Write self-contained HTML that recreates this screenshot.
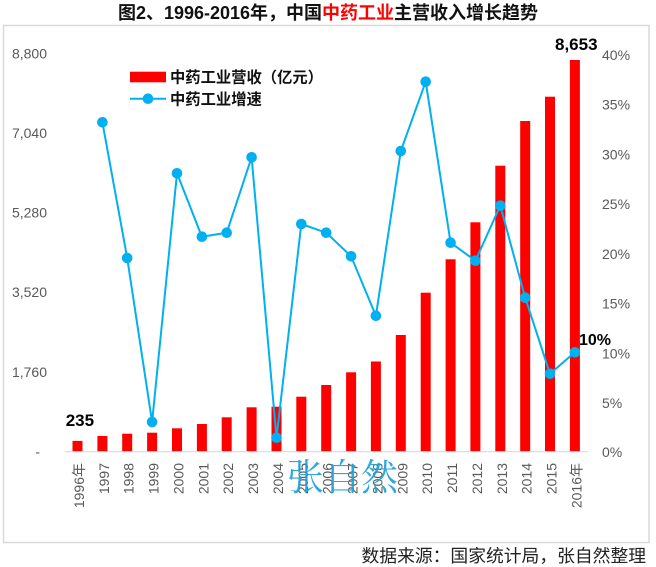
<!DOCTYPE html>
<html><head><meta charset="utf-8"><style>
html,body{margin:0;padding:0;background:#fff;}
svg{display:block;}
</style></head><body>
<svg width="656" height="567" viewBox="0 0 656 567" xmlns="http://www.w3.org/2000/svg">
<rect x="0" y="0" width="656" height="567" fill="#fff"/>
<text x="328" y="19" text-anchor="middle" font-family="Liberation Sans, Noto Sans CJK SC, sans-serif" font-size="18" font-weight="bold" fill="#111">图2、1996-2016年，中国<tspan fill="#ff0000">中药工业</tspan>主营收入增长趋势</text>
<rect x="3.5" y="25.5" width="645.5" height="517" fill="none" stroke="#d9d9d9" stroke-width="1.5"/>
<g font-family="Liberation Sans, sans-serif" font-size="14" fill="#595959">
<text x="47" y="58.5" text-anchor="end">8,800</text>
<text x="47" y="138" text-anchor="end">7,040</text>
<text x="47" y="217.5" text-anchor="end">5,280</text>
<text x="47" y="297" text-anchor="end">3,520</text>
<text x="47" y="377" text-anchor="end">1,760</text>
<text x="40" y="456.5" text-anchor="end">-</text>
<text x="602" y="60">40%</text>
<text x="602" y="109.5">35%</text>
<text x="602" y="159.3">30%</text>
<text x="602" y="209">25%</text>
<text x="602" y="258.8">20%</text>
<text x="602" y="308.5">15%</text>
<text x="602" y="358.3">10%</text>
<text x="602" y="408">5%</text>
<text x="602" y="457">0%</text>
</g>
<g fill="#ff0000">
<rect x="72.5" y="440.9" width="10" height="10.6"/>
<rect x="97.4" y="436" width="10" height="15.5"/>
<rect x="122.2" y="433.7" width="10" height="17.8"/>
<rect x="147.1" y="432.7" width="10" height="18.8"/>
<rect x="172" y="428.3" width="10" height="23.2"/>
<rect x="196.9" y="424" width="10" height="27.5"/>
<rect x="221.7" y="417.3" width="10" height="34.2"/>
<rect x="246.6" y="407.3" width="10" height="44.2"/>
<rect x="271.5" y="406.7" width="10" height="44.8"/>
<rect x="296.3" y="396.7" width="10" height="54.8"/>
<rect x="321.2" y="385" width="10" height="66.5"/>
<rect x="346.1" y="372.3" width="10" height="79.2"/>
<rect x="370.9" y="361.5" width="10" height="90"/>
<rect x="395.8" y="335" width="10" height="116.5"/>
<rect x="420.7" y="292.7" width="10" height="158.8"/>
<rect x="445.6" y="259.3" width="10" height="192.2"/>
<rect x="470.4" y="222.3" width="10" height="229.2"/>
<rect x="495.3" y="165.7" width="10" height="285.8"/>
<rect x="520.2" y="121" width="10" height="330.5"/>
<rect x="545" y="96.7" width="10" height="354.8"/>
<rect x="569.9" y="60" width="10" height="391.5"/>
</g>
<line x1="65" y1="451.7" x2="588" y2="451.7" stroke="#d9d9d9" stroke-width="1.2"/>
<g font-family="Liberation Sans, Noto Sans CJK SC, sans-serif" font-size="14" fill="#595959" text-anchor="end">
<text transform="translate(84,463) rotate(-90)">1996年</text>
<text transform="translate(108.9,463) rotate(-90)">1997</text>
<text transform="translate(133.7,463) rotate(-90)">1998</text>
<text transform="translate(158.6,463) rotate(-90)">1999</text>
<text transform="translate(183.5,463) rotate(-90)">2000</text>
<text transform="translate(208.4,463) rotate(-90)">2001</text>
<text transform="translate(233.2,463) rotate(-90)">2002</text>
<text transform="translate(258.1,463) rotate(-90)">2003</text>
<text transform="translate(283,463) rotate(-90)">2004</text>
<text transform="translate(307.8,463) rotate(-90)">2005</text>
<text transform="translate(332.7,463) rotate(-90)">2006</text>
<text transform="translate(357.6,463) rotate(-90)">2007</text>
<text transform="translate(382.4,463) rotate(-90)">2008</text>
<text transform="translate(407.3,463) rotate(-90)">2009</text>
<text transform="translate(432.2,463) rotate(-90)">2010</text>
<text transform="translate(457.1,463) rotate(-90)">2011</text>
<text transform="translate(481.9,463) rotate(-90)">2012</text>
<text transform="translate(506.8,463) rotate(-90)">2013</text>
<text transform="translate(531.7,463) rotate(-90)">2014</text>
<text transform="translate(556.5,463) rotate(-90)">2015</text>
<text transform="translate(581.4,463) rotate(-90)">2016年</text>
</g>
<polyline fill="none" stroke="#00b0f0" stroke-width="2" points="102.4,122.3 127.2,258 152.1,422 177,173.3 201.9,236.7 226.7,232.7 251.6,157.3 276.5,437.7 301.3,224 326.2,232.7 351.1,256.3 375.9,315.8 400.8,151 425.7,81.7 450.6,242.7 475.4,260.7 500.3,205.7 525.2,297.7 550,373.8 574.9,352.3"/>
<g fill="#00b0f0">
<circle cx="102.4" cy="122.3" r="5.3"/>
<circle cx="127.2" cy="258" r="5.3"/>
<circle cx="152.1" cy="422" r="5.3"/>
<circle cx="177" cy="173.3" r="5.3"/>
<circle cx="201.9" cy="236.7" r="5.3"/>
<circle cx="226.7" cy="232.7" r="5.3"/>
<circle cx="251.6" cy="157.3" r="5.3"/>
<circle cx="276.5" cy="437.7" r="5.3"/>
<circle cx="301.3" cy="224" r="5.3"/>
<circle cx="326.2" cy="232.7" r="5.3"/>
<circle cx="351.1" cy="256.3" r="5.3"/>
<circle cx="375.9" cy="315.8" r="5.3"/>
<circle cx="400.8" cy="151" r="5.3"/>
<circle cx="425.7" cy="81.7" r="5.3"/>
<circle cx="450.6" cy="242.7" r="5.3"/>
<circle cx="475.4" cy="260.7" r="5.3"/>
<circle cx="500.3" cy="205.7" r="5.3"/>
<circle cx="525.2" cy="297.7" r="5.3"/>
<circle cx="550" cy="373.8" r="5.3"/>
<circle cx="574.9" cy="352.3" r="5.3"/>
</g>
<g font-family="Liberation Sans, sans-serif" font-weight="bold" fill="#000">
<text x="65.7" y="426" font-size="17">235</text>
<text x="555" y="50" font-size="17">8,653</text>
<text x="579" y="345" font-size="16">10%</text>
</g>
<rect x="130" y="71.7" width="36" height="10.6" fill="#ff0000"/>
<line x1="130" y1="98.7" x2="166" y2="98.7" stroke="#00b0f0" stroke-width="2"/>
<circle cx="148" cy="98.7" r="5.3" fill="#00b0f0"/>
<g font-family="Liberation Sans, Noto Sans CJK SC, sans-serif" font-size="15.3" font-weight="bold" fill="#111">
<text x="170" y="82.5">中药工业营收（亿元）</text>
<text x="170" y="104.3">中药工业增速</text>
</g>
<text x="287" y="490" font-family="Noto Serif CJK SC, serif" font-size="37" fill="#1a9fdc" fill-opacity="0.92">张自然</text>
<text x="361.5" y="562" font-family="Liberation Sans, Noto Sans CJK SC, sans-serif" font-size="17.8" fill="#222">数据来源：国家统计局，张自然整理</text>
</svg>
</body></html>
